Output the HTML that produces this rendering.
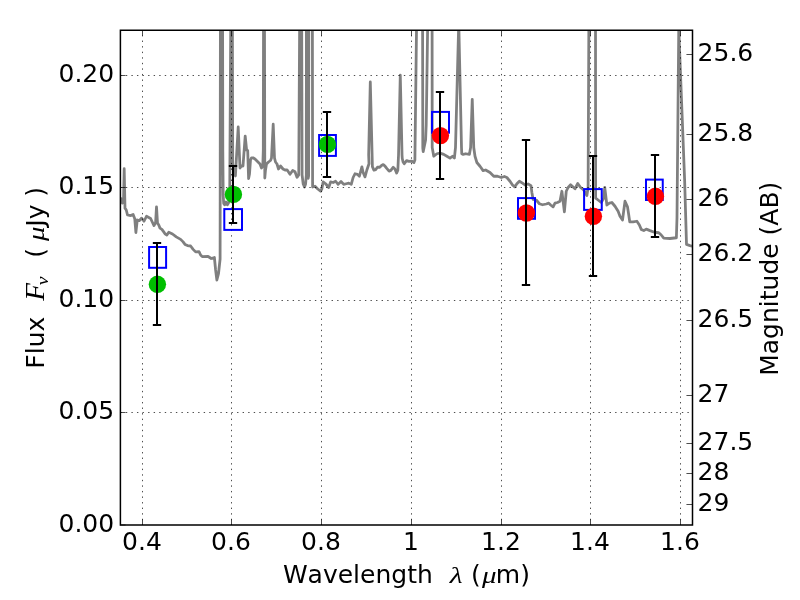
<!DOCTYPE html>
<html lang="en"><head><meta charset="utf-8"><title>Flux vs Wavelength</title>
<style>html,body{margin:0;padding:0;background:#fff;}body{width:800px;height:600px;overflow:hidden;}svg{display:block;}text{font-family:"DejaVu Sans","Liberation Sans",sans-serif;font-size:25px;fill:#000;font-kerning:none;}.m{font-family:"Liberation Serif","DejaVu Serif",serif;font-style:italic;}</style></head><body>
<svg width="800" height="600" viewBox="0 0 800 600">
<rect x="0" y="0" width="800" height="600" fill="#fff"/>
<defs><clipPath id="ax"><rect x="120.0" y="30.0" width="572.0" height="495.0"/></clipPath></defs>
<g clip-path="url(#ax)"><polyline points="118.75,197.50 121.25,198.75 122.38,203.12 123.50,201.88 124.19,168.75 125.00,208.12 126.25,210.00 127.50,215.00 130.62,215.62 133.12,214.38 134.75,218.75 135.88,232.50 137.25,220.00 139.38,220.62 141.50,218.12 144.00,221.25 146.50,216.25 150.62,218.50 152.50,222.50 154.00,225.62 155.62,222.50 156.50,206.88 157.50,223.12 158.75,225.00 160.00,228.12 161.88,229.38 163.75,231.88 165.00,233.75 166.88,235.00 168.75,232.25 172.50,234.00 176.25,236.88 180.62,239.38 183.12,241.88 185.00,244.38 187.50,245.62 190.62,246.00 193.12,249.38 195.62,251.88 199.00,251.62 200.62,255.00 202.25,256.62 208.12,256.50 211.25,258.50 214.38,257.50 215.62,270.00 216.88,280.00 218.50,273.75 220.10,259.00 220.45,-10.00 222.53,-10.00 222.80,150.00 223.20,195.00 223.70,203.50 224.60,204.80 226.00,202.00 227.40,204.80 228.80,202.30 229.70,196.00 230.94,-10.00 232.31,-10.00 232.70,164.00 235.40,176.00 238.20,127.00 240.00,168.00 241.50,166.00 243.00,166.00 245.20,136.20 246.60,150.00 247.70,150.50 248.60,178.60 249.50,174.00 250.50,160.00 251.50,157.80 253.00,157.80 255.00,159.00 257.50,161.50 260.00,164.00 261.50,168.00 262.80,166.00 263.30,150.00 263.57,-10.00 264.42,-10.00 264.80,178.00 265.50,170.00 266.50,164.00 268.50,162.00 270.50,160.50 271.50,158.00 273.20,124.20 274.50,158.00 275.50,162.00 277.00,164.00 278.50,169.00 280.50,166.00 283.00,169.00 285.00,170.00 287.00,169.80 288.50,172.00 290.00,174.30 292.70,170.50 295.00,171.70 297.00,177.30 298.75,175.00 299.83,-10.00 301.59,-10.00 302.10,175.00 303.20,184.00 304.50,187.00 305.60,184.00 306.30,175.00 306.43,-10.00 307.32,-10.00 307.70,176.00 308.20,178.30 308.60,176.00 308.85,-10.00 312.35,-10.00 312.60,187.00 315.00,186.25 317.50,188.75 320.62,191.25 321.88,188.75 323.12,181.88 325.62,183.75 328.75,187.50 330.62,181.88 333.12,182.50 335.62,181.25 338.12,184.38 341.00,181.50 343.75,184.38 346.25,183.75 348.75,183.12 351.25,184.38 353.12,177.50 355.00,173.75 357.50,174.38 359.38,176.25 361.88,166.88 363.12,172.50 365.00,176.88 366.88,170.00 369.00,163.75 368.67,155.00 370.30,81.97 372.40,166.67 373.92,170.17 375.67,169.58 377.42,167.25 379.75,167.25 381.50,165.50 383.25,164.57 385.00,166.08 386.75,168.42 389.08,171.10 390.83,170.40 393.17,167.25 394.92,169.00 396.67,173.08 397.83,170.17 398.53,155.00 400.28,75.20 402.03,155.00 402.27,158.50 403.08,162.00 404.25,163.75 406.58,160.60 408.92,161.42 411.83,161.07 413.93,162.58 414.90,160.00 416.99,-10.00 422.53,-10.00 422.80,148.00 423.20,151.70 425.60,140.00 426.20,125.00 426.60,100.00 428.17,-10.00 432.07,-10.00 432.20,147.50 433.75,156.25 436.88,153.75 440.00,153.12 443.75,154.38 446.88,156.25 450.00,158.12 452.50,156.25 454.38,158.12 455.50,147.50 458.75,22.50 461.50,147.50 461.75,153.75 463.12,154.38 465.62,153.75 469.38,154.38 470.62,147.50 472.25,99.38 473.75,147.50 475.00,156.25 476.88,162.50 480.00,166.25 483.12,170.62 485.62,170.00 490.00,172.50 493.75,176.25 497.50,176.25 501.25,177.50 504.38,176.50 506.88,177.50 510.00,181.25 512.50,185.00 514.75,186.88 516.88,183.75 519.38,181.25 522.50,183.12 525.00,185.00 528.12,184.00 531.00,185.62 531.88,192.50 533.12,199.38 536.25,200.00 539.38,203.75 542.50,204.75 546.25,204.00 548.75,203.12 550.62,205.00 553.12,206.88 555.00,203.12 557.50,202.50 560.00,201.25 561.88,191.25 564.38,211.88 566.25,191.25 568.12,187.50 570.62,184.75 575.00,188.75 577.75,183.50 580.62,187.50 583.75,190.00 586.88,195.62 588.12,187.50 589.75,-175.00 595.38,-175.00 595.62,198.12 598.12,200.00 601.25,202.50 603.75,198.12 604.75,187.50 606.88,205.00 609.38,203.12 611.88,202.50 615.00,206.25 618.12,211.25 620.00,216.25 622.50,220.00 625.00,201.25 627.50,206.88 628.75,215.00 629.75,221.88 633.12,221.88 636.88,221.25 639.38,225.00 641.25,229.38 643.75,230.62 646.25,229.12 650.00,230.62 654.38,232.25 658.75,232.75 661.25,235.00 663.75,238.12 670.00,238.50 676.38,237.75 677.00,217.50 678.75,28.75 684.62,180.00 686.50,244.38 690.00,245.62 695.00,246.88" fill="none" stroke="#000" stroke-opacity="0.5" stroke-width="2.78" stroke-linejoin="round" stroke-linecap="butt"/></g>
<g stroke="#000" stroke-width="0.7" stroke-dasharray="1.39 4.17" fill="none">
<line x1="142.5" y1="525.0" x2="142.5" y2="30.0" stroke-dashoffset="0.7"/>
<line x1="231.5" y1="525.0" x2="231.5" y2="30.0" stroke-dashoffset="0.7"/>
<line x1="321.5" y1="525.0" x2="321.5" y2="30.0" stroke-dashoffset="0.7"/>
<line x1="411.5" y1="525.0" x2="411.5" y2="30.0" stroke-dashoffset="0.7"/>
<line x1="501.5" y1="525.0" x2="501.5" y2="30.0" stroke-dashoffset="0.7"/>
<line x1="590.5" y1="525.0" x2="590.5" y2="30.0" stroke-dashoffset="0.7"/>
<line x1="680.5" y1="525.0" x2="680.5" y2="30.0" stroke-dashoffset="0.7"/>
<line x1="120.0" y1="412.5" x2="692.0" y2="412.5" stroke-dashoffset="-0.3"/>
<line x1="120.0" y1="300.5" x2="692.0" y2="300.5" stroke-dashoffset="-0.3"/>
<line x1="120.0" y1="187.5" x2="692.0" y2="187.5" stroke-dashoffset="-0.3"/>
<line x1="120.0" y1="75.5" x2="692.0" y2="75.5" stroke-dashoffset="-0.3"/>
</g>
<g clip-path="url(#ax)">
<rect x="149.10" y="247.00" width="17.00" height="20.80" fill="none" stroke="#0000ff" stroke-width="2"/>
<rect x="224.30" y="209.10" width="17.70" height="20.80" fill="none" stroke="#0000ff" stroke-width="2"/>
<rect x="319.10" y="135.00" width="16.80" height="20.90" fill="none" stroke="#0000ff" stroke-width="2"/>
<rect x="432.00" y="111.90" width="17.00" height="20.80" fill="none" stroke="#0000ff" stroke-width="2"/>
<rect x="518.00" y="198.10" width="17.00" height="20.70" fill="none" stroke="#0000ff" stroke-width="2"/>
<rect x="584.10" y="189.10" width="17.65" height="20.80" fill="none" stroke="#0000ff" stroke-width="2"/>
<rect x="646.00" y="179.60" width="16.75" height="20.40" fill="none" stroke="#0000ff" stroke-width="2"/>
<circle cx="157.40" cy="284.30" r="8.7" fill="#00bf00"/>
<circle cx="233.40" cy="194.40" r="8.7" fill="#00bf00"/>
<circle cx="327.40" cy="144.40" r="8.7" fill="#00bf00"/>
<circle cx="440.40" cy="135.60" r="8.7" fill="#ff0000"/>
<circle cx="526.40" cy="213.00" r="8.7" fill="#ff0000"/>
<circle cx="593.40" cy="216.30" r="8.7" fill="#ff0000"/>
<circle cx="655.40" cy="196.30" r="8.7" fill="#ff0000"/>
<path d="M157.0 243.0V325.0M152.83 243.0h8.34M152.83 325.0h8.34" stroke="#000" stroke-width="2" fill="none"/>
<path d="M233.0 166.0V223.0M228.83 166.0h8.34M228.83 223.0h8.34" stroke="#000" stroke-width="2" fill="none"/>
<path d="M327.0 112.0V177.0M322.83 112.0h8.34M322.83 177.0h8.34" stroke="#000" stroke-width="2" fill="none"/>
<path d="M440.0 92.0V179.0M435.83 92.0h8.34M435.83 179.0h8.34" stroke="#000" stroke-width="2" fill="none"/>
<path d="M526.0 140.0V285.0M521.83 140.0h8.34M521.83 285.0h8.34" stroke="#000" stroke-width="2" fill="none"/>
<path d="M593.0 156.0V276.0M588.83 156.0h8.34M588.83 276.0h8.34" stroke="#000" stroke-width="2" fill="none"/>
<path d="M655.0 155.0V237.0M650.83 155.0h8.34M650.83 237.0h8.34" stroke="#000" stroke-width="2" fill="none"/>
</g>
<g stroke="#000" stroke-width="0.7" fill="none">
<line x1="142.5" y1="525.0" x2="142.5" y2="519.44"/>
<line x1="142.5" y1="30.0" x2="142.5" y2="35.56"/>
<line x1="231.5" y1="525.0" x2="231.5" y2="519.44"/>
<line x1="231.5" y1="30.0" x2="231.5" y2="35.56"/>
<line x1="321.5" y1="525.0" x2="321.5" y2="519.44"/>
<line x1="321.5" y1="30.0" x2="321.5" y2="35.56"/>
<line x1="411.5" y1="525.0" x2="411.5" y2="519.44"/>
<line x1="411.5" y1="30.0" x2="411.5" y2="35.56"/>
<line x1="501.5" y1="525.0" x2="501.5" y2="519.44"/>
<line x1="501.5" y1="30.0" x2="501.5" y2="35.56"/>
<line x1="590.5" y1="525.0" x2="590.5" y2="519.44"/>
<line x1="590.5" y1="30.0" x2="590.5" y2="35.56"/>
<line x1="680.5" y1="525.0" x2="680.5" y2="519.44"/>
<line x1="680.5" y1="30.0" x2="680.5" y2="35.56"/>
<line x1="120.0" y1="525.0" x2="125.56" y2="525.0"/>
<line x1="120.0" y1="412.5" x2="125.56" y2="412.5"/>
<line x1="120.0" y1="300.5" x2="125.56" y2="300.5"/>
<line x1="120.0" y1="187.5" x2="125.56" y2="187.5"/>
<line x1="120.0" y1="75.5" x2="125.56" y2="75.5"/>
<line x1="692.0" y1="54.5" x2="686.44" y2="54.5"/>
<line x1="692.0" y1="134.5" x2="686.44" y2="134.5"/>
<line x1="692.0" y1="199.5" x2="686.44" y2="199.5"/>
<line x1="692.0" y1="254.5" x2="686.44" y2="254.5"/>
<line x1="692.0" y1="320.5" x2="686.44" y2="320.5"/>
<line x1="692.0" y1="395.5" x2="686.44" y2="395.5"/>
<line x1="692.0" y1="443.5" x2="686.44" y2="443.5"/>
<line x1="692.0" y1="473.5" x2="686.44" y2="473.5"/>
<line x1="692.0" y1="504.5" x2="686.44" y2="504.5"/>
</g>
<path d="M120.4 29.45V525.85M692.5 29.45V525.85M119.65 30.2H693.25M119.65 525.1H693.25" fill="none" stroke="#000" stroke-width="1.5"/>
<text x="142.00" y="550" text-anchor="middle">0.4</text>
<text x="231.00" y="550" text-anchor="middle">0.6</text>
<text x="321.00" y="550" text-anchor="middle">0.8</text>
<text x="411.00" y="550" text-anchor="middle">1</text>
<text x="501.00" y="550" text-anchor="middle">1.2</text>
<text x="590.00" y="550" text-anchor="middle">1.4</text>
<text x="680.00" y="550" text-anchor="middle">1.6</text>
<text x="114.2" y="531.50" text-anchor="end">0.00</text>
<text x="114.2" y="419.00" text-anchor="end">0.05</text>
<text x="114.2" y="307.00" text-anchor="end">0.10</text>
<text x="114.2" y="194.00" text-anchor="end">0.15</text>
<text x="114.2" y="82.00" text-anchor="end">0.20</text>
<text x="697.6" y="61.00" text-anchor="start">25.6</text>
<text x="697.6" y="141.00" text-anchor="start">25.8</text>
<text x="697.6" y="206.00" text-anchor="start">26</text>
<text x="697.6" y="261.00" text-anchor="start">26.2</text>
<text x="697.6" y="327.00" text-anchor="start">26.5</text>
<text x="697.6" y="402.00" text-anchor="start">27</text>
<text x="697.6" y="450.00" text-anchor="start">27.5</text>
<text x="697.6" y="480.00" text-anchor="start">28</text>
<text x="697.6" y="511.00" text-anchor="start">29</text>
<text x="282.9" y="582.7">Wavelength</text>
<text class="m" transform="translate(449.70,582.75) scale(1.25,1)" style="font-size:23.8px">λ</text>
<text x="470.95" y="582.7">(</text>
<text class="m" transform="translate(481.90,582.90) scale(1.28,1)" style="font-size:22.7px">μ</text>
<text x="495.8" y="582.7">m)</text>
<g transform="translate(43.9,368.7) rotate(-90)">
<text x="0" y="0">Flux</text>
<text class="m" transform="translate(67.85,0.30) scale(1.1,1)" style="font-size:26.3px">F</text>
<text class="m" transform="translate(83.40,4.10) scale(1.16,1)" style="font-size:17px">ν</text>
<text x="111" y="0">(</text>
<text class="m" transform="translate(127.70,0.00) scale(1.28,1)" style="font-size:22.7px">μ</text>
<text x="142" y="0">Jy</text>
<text x="172" y="0">)</text>
</g>
<g transform="translate(778.3,375.8) rotate(-90)"><text x="0" y="0">Magnitude (AB)</text></g>
</svg></body></html>
